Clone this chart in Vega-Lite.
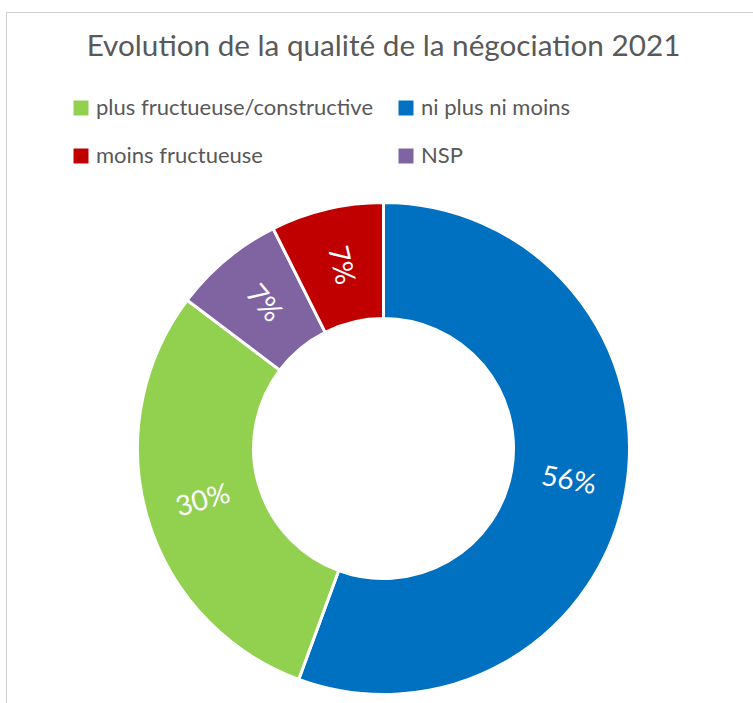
{
  "$schema": "https://vega.github.io/schema/vega-lite/v6.json",
  "autosize": {"type": "none"},
  "padding": {"left": 6, "top": 12, "right": -8, "bottom": -182},
  "width": 755,
  "height": 873,
  "background": "white",
  "view": {"stroke": "#d0d0d0", "strokeWidth": 1, "fill": "white"},
  "config": {"font": "Lato"},
  "title": {
    "text": "Evolution de la qualité de la négociation 2021",
    "font": "Lato",
    "fontSize": 29.7,
    "fontWeight": "normal",
    "color": "#595959",
    "anchor": "middle",
    "frame": "group",
    "orient": "top",
    "baseline": "alphabetic",
    "offset": -43,
    "dy": 31
  },
  "data": {
    "values": [
      {"categorie": "ni plus ni moins", "valeur": 55.6, "etiquette": "56%", "ordre": 1},
      {"categorie": "plus fructueuse/constructive", "valeur": 29.7, "etiquette": "30%", "ordre": 2},
      {"categorie": "NSP", "valeur": 7.3, "etiquette": "7%", "ordre": 3},
      {"categorie": "moins fructueuse", "valeur": 7.4, "etiquette": "7%", "ordre": 4}
    ]
  },
  "layer": [
    {
      "mark": {"type": "arc", "innerRadius": 130, "outerRadius": 246, "stroke": "white", "strokeWidth": 3},
      "encoding": {
        "theta": {"field": "valeur", "type": "quantitative", "stack": true},
        "order": {"field": "ordre", "type": "quantitative"},
        "color": {
          "field": "categorie",
          "type": "nominal",
          "scale": {
            "domain": ["plus fructueuse/constructive", "ni plus ni moins", "moins fructueuse", "NSP"],
            "range": ["#92D050", "#0070C0", "#C00000", "#8064A2"]
          },
          "legend": {
            "title": null,
            "orient": "none",
            "legendX": 64,
            "legendY": 85,
            "direction": "horizontal",
            "columns": 2,
            "padding": 0,
            "symbolType": "square",
            "symbolSize": 225,
            "symbolStrokeWidth": 0,
            "symbolOpacity": 1,
            "labelFont": "Lato",
            "labelFontSize": 22,
            "labelColor": "#595959",
            "labelOffset": 4,
            "labelLimit": 400,
            "rowPadding": 26,
            "columnPadding": 21
          }
        }
      }
    },
    {
      "mark": {"type": "text", "radius": 188, "fill": "white", "font": "Lato", "fontSize": 28, "align": "center", "baseline": "middle"},
      "encoding": {
        "theta": {"field": "valeur", "type": "quantitative", "stack": true},
        "order": {"field": "ordre", "type": "quantitative"},
        "text": {"field": "etiquette", "type": "nominal"},
        "angle": {
          "condition": [
            {"test": "datum.categorie === 'NSP'", "value": 50},
            {"test": "datum.categorie === 'moins fructueuse'", "value": 77},
            {"test": "datum.categorie === 'plus fructueuse/constructive'", "value": -16}
          ],
          "value": 10
        }
      }
    }
  ]
}
